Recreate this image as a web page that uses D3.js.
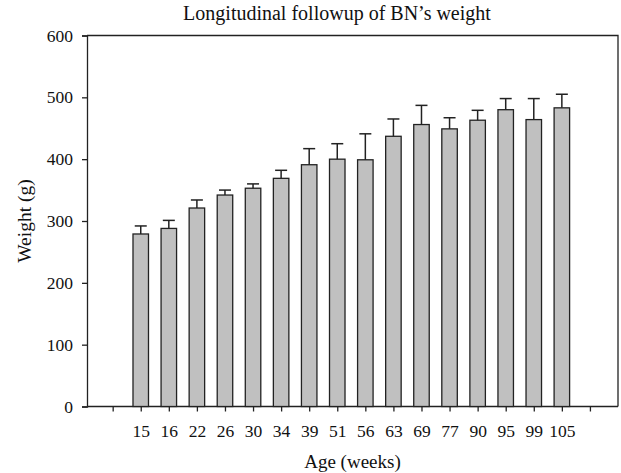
<!DOCTYPE html>
<html>
<head>
<meta charset="utf-8">
<script src="https://cdn.jsdelivr.net/npm/d3@7"></script>
<style>
  body { margin: 0; background: #fff; }
  text { font-family: "Liberation Serif", "DejaVu Serif", serif; fill: #111; }
</style>
</head>
<body>
<script>
// Data
const ages = ["15","16","22","26","30","34","39","51","56","63","69","77","90","95","99","105"];
const weights = [279, 288, 321, 342, 353, 369, 391, 400, 399, 437, 456, 449, 463, 480, 464, 483];
const sds = [13, 13, 13, 8, 7, 13, 26, 25, 42, 28, 31, 18, 16, 18, 34, 22];
const yTicks = [0, 100, 200, 300, 400, 500, 600];

const W = 621, H = 473;
const plot = {left: 87, right: 618, top: 35.5, bottom: 406.5};

const svg = d3.select("body").append("svg")
  .attr("width", W)
  .attr("height", H);

// x: one empty slot left of the first bar, two on the right
const xScale = d3.scaleLinear()
  .domain([-2, ages.length + 1])
  .range([84.6, plot.right]);

const yScale = d3.scaleLinear()
  .domain([0, 600])
  .range([plot.bottom, plot.top]);

const dark = "#222";

// frame (top + right)
svg.append("path")
  .attr("d", `M${plot.left},${plot.top}H${plot.right}V${plot.bottom}`)
  .attr("fill", "none")
  .attr("stroke", dark)
  .attr("stroke-width", 1.3);

// Y axis
const yAxis = d3.axisLeft(yScale)
  .tickValues(yTicks)
  .tickSize(5)
  .tickPadding(9);

const gy = svg.append("g")
  .attr("transform", `translate(${plot.left},0)`)
  .call(yAxis);
gy.select(".domain").attr("stroke", dark).attr("stroke-width", 1.3);
gy.selectAll(".tick line").attr("stroke", dark).attr("stroke-width", 1.3);
gy.selectAll(".tick text")
  .style("font-family", "Liberation Serif")
  .style("font-size", "17.5px")
  .attr("fill", "#111");

// X axis, ticks at every slot from -1 to 17
const xTickVals = d3.range(-1, ages.length + 1);
const xAxis = d3.axisBottom(xScale)
  .tickValues(xTickVals)
  .tickSize(5)
  .tickPadding(13)
  .tickFormat(i => (i >= 0 && i < ages.length) ? ages[i] : "");

const gx = svg.append("g")
  .attr("transform", `translate(0,${plot.bottom})`)
  .call(xAxis);
gx.select(".domain").attr("d", `M${plot.left},0H${plot.right}`)
  .attr("stroke", dark).attr("stroke-width", 1.3);
gx.selectAll(".tick line").attr("stroke", dark).attr("stroke-width", 1.3);
gx.selectAll(".tick text")
  .style("font-family", "Liberation Serif")
  .style("font-size", "17.5px")
  .attr("fill", "#111");

// bars
const barW = 15.5;
const data = ages.map((a, i) => ({age: a, i: i, w: weights[i], sd: sds[i]}));

svg.append("g")
  .selectAll("rect")
  .data(data)
  .enter().append("rect")
  .attr("x", d => xScale(d.i) - barW / 2)
  .attr("y", d => yScale(d.w))
  .attr("width", barW)
  .attr("height", d => yScale(0) - yScale(d.w))
  .attr("fill", "#c0c0c0")
  .attr("stroke", dark)
  .attr("stroke-width", 1.3);

// error bars (upper only)
const capW = 12;
const err = svg.append("g")
  .attr("stroke", dark)
  .attr("stroke-width", 1.5)
  .selectAll("g")
  .data(data)
  .enter().append("g");

err.append("line")
  .attr("x1", d => xScale(d.i))
  .attr("x2", d => xScale(d.i))
  .attr("y1", d => yScale(d.w))
  .attr("y2", d => yScale(d.w + d.sd));

err.append("line")
  .attr("x1", d => xScale(d.i) - capW / 2)
  .attr("x2", d => xScale(d.i) + capW / 2)
  .attr("y1", d => yScale(d.w + d.sd))
  .attr("y2", d => yScale(d.w + d.sd));

// title & labels
svg.append("text")
  .attr("x", 337)
  .attr("y", 20)
  .attr("text-anchor", "middle")
  .style("font-size", "20px")
  .text("Longitudinal followup of BN\u2019s weight");

svg.append("text")
  .attr("x", (plot.left + plot.right) / 2)
  .attr("y", 468)
  .attr("text-anchor", "middle")
  .style("font-size", "19px")
  .text("Age (weeks)");

svg.append("text")
  .attr("transform", `translate(31,${(plot.top + plot.bottom) / 2}) rotate(-90)`)
  .attr("text-anchor", "middle")
  .style("font-size", "19.5px")
  .text("Weight (g)");
</script>
</body>
</html>
